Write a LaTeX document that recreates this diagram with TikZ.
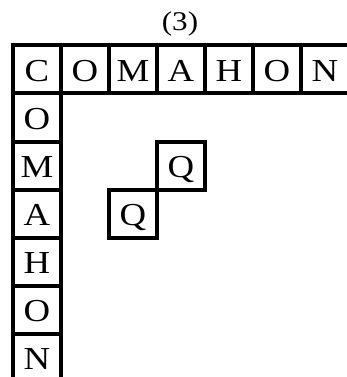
\documentclass[tikz,border=0pt]{standalone}
\usepackage{fontspec}
\setmainfont[FakeStretch=1.15]{Liberation Serif}

\begin{document}
\begin{tikzpicture}[x=1pt,y=-1pt,
		cell/.style={draw, line width=4pt, minimum size=48pt, inner sep=0pt,
			text height=24pt, text depth=0pt, font=\fontsize{32}{38}\selectfont}]
	\useasboundingbox (0,0) rectangle (346,377);
	%% The top row
	\foreach \l [count=\i from 0] in {C,O,M,A,H,O,N}
		\node[cell] (t\i) at (37+48*\i,69.5) {\l};
	%% The left column
	\foreach \l [count=\i] in {O,M,A,H,O,N}
		\node[cell] (s\i) at (37,69.5+48*\i) {\l};
	%% The two Q squares
	\node[cell] (q1) at (181,165.5) {Q};
	\node[cell] (q2) at (133,213.5) {Q};
	\node[font=\fontsize{27}{32}\selectfont] (lbl) at (180,24) {(3)};
\end{tikzpicture}
\end{document}
